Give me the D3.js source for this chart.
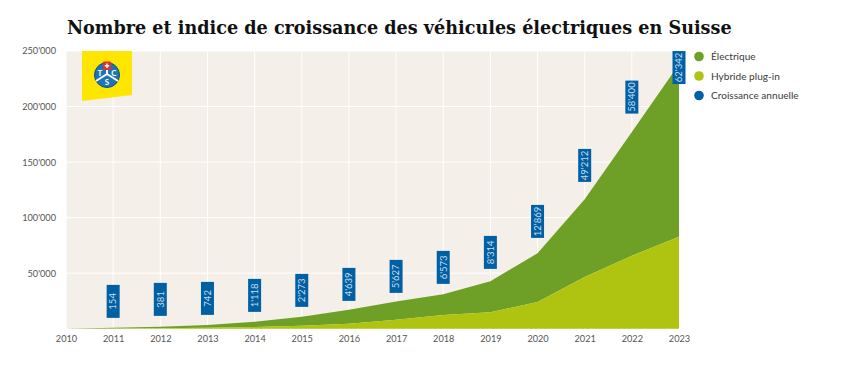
<!DOCTYPE html>
<html>
<head>
<meta charset="utf-8">
<script src="https://cdn.jsdelivr.net/npm/d3@7"></script>
<style>
body { margin: 0; background: #fff; overflow: hidden; }
svg { display: block; }
text { font-family: Lato, sans-serif; }
.tick text { font-size: 9.2px; fill: #555; }
.legend-label { font-size: 10.1px; fill: #3a3a3a; }
</style>
</head>
<body>
<svg id="chart"></svg>
<script>
const years = [2010, 2011, 2012, 2013, 2014, 2015, 2016, 2017, 2018, 2019, 2020, 2021, 2022, 2023];
const yTicks = [50000, 100000, 150000, 200000, 250000];
const hybridValues = [0, 100, 300, 800, 1500, 2700, 4500, 8100, 12400, 14800, 24000, 46500, 65700, 82800];
const electricValues = [0, 800, 1500, 2500, 4800, 8100, 12600, 16300, 18600, 28000, 43900, 70000, 111300, 155200];
const growthYears = [2011, 2012, 2013, 2014, 2015, 2016, 2017, 2018, 2019, 2020, 2021, 2022, 2023];
const growthLabels = ["154", "381", "742", "1'118", "2'273", "4'639", "5'627", "6'573", "8'314", "12'869", "49'212", "58'400", "62'342"];
const growthLevels = [24600, 26400, 27300, 30000, 34500, 39900, 47100, 55200, 68700, 96600, 147000, 208500, 235100];
const legendLabels = ["Électrique", "Hybride plug-in", "Croissance annuelle"];
const legendColors = ["#6ea027", "#afc410", "#0060a3"];

const width = 842, height = 370;
const margin = { top: 51, right: 163, bottom: 41.3, left: 66 };
const innerWidth = width - margin.left - margin.right;
const innerHeight = height - margin.top - margin.bottom;

const svg = d3.select('#chart').attr('width', width).attr('height', height);

svg.append('text')
    .attr('x', 67).attr('y', 34)
    .style('font-family', '"DejaVu Serif", serif')
    .style('font-weight', 'bold')
    .style('font-size', '17.6px')
    .style('fill', '#111')
    .text('Nombre et indice de croissance des véhicules électriques en Suisse');

const chart = svg.append('g').attr('transform', `translate(${margin.left},${margin.top})`);

const xScale = d3.scaleLinear().domain([2010, 2023]).range([0, innerWidth]);
const yScale = d3.scaleLinear().domain([0, 250000]).range([innerHeight, 0]);

chart.append('rect').attr('width', innerWidth).attr('height', innerHeight).attr('fill', '#f4f0e9');

// grid
chart.selectAll('.vgrid').data(years).enter().append('line')
    .attr('x1', d => xScale(d)).attr('x2', d => xScale(d))
    .attr('y1', 0).attr('y2', innerHeight)
    .attr('stroke', '#fff').attr('stroke-width', 1);
chart.selectAll('.hgrid').data(yTicks).enter().append('line')
    .attr('x1', 0).attr('x2', innerWidth)
    .attr('y1', d => yScale(d)).attr('y2', d => yScale(d))
    .attr('stroke', '#fff').attr('stroke-width', 1);

// logo
const logo = chart.append('g').attr('transform', `translate(${xScale(2010)},0)`);
logo.append('polygon').attr('points', '16,0 66,0 66,44 16,50').attr('fill', '#ffe600');
logo.append('circle').attr('cx', 41).attr('cy', 24).attr('r', 12.5).attr('fill', '#1c75b5').attr('stroke', '#0d4f82');
logo.append('path').attr('d', 'M41 23L41 12M41 23L30 30M41 23L52 30').attr('stroke', '#fff').attr('stroke-width', 2).attr('fill', 'none');
logo.append('rect').attr('x', 37).attr('y', 10.5).attr('width', 8).attr('height', 8.5).attr('rx', 1).attr('fill', '#e3312d');
logo.append('path').attr('d', 'M41 12.5V17M38.8 14.7H43.2').attr('stroke', '#fff').attr('stroke-width', 1.4);
[['T', 34, 25], ['C', 48, 25], ['S', 41, 34]].forEach(l => {
    logo.append('text').attr('x', l[1]).attr('y', l[2]).attr('text-anchor', 'middle')
        .style('font-size', '8px').style('font-weight', 'bold').style('fill', '#fff').text(l[0]);
});

// stacked areas
const totalValues = hybridValues.map((d, i) => d + electricValues[i]);
const electricArea = d3.area()
    .x((d, i) => xScale(years[i]))
    .y0((d, i) => yScale(hybridValues[i]))
    .y1(d => yScale(d));
const hybridArea = d3.area()
    .x((d, i) => xScale(years[i]))
    .y0(innerHeight)
    .y1(d => yScale(d));
chart.append('path').datum(totalValues).attr('d', electricArea).attr('fill', legendColors[0]);
chart.append('path').datum(hybridValues).attr('d', hybridArea).attr('fill', legendColors[1]);

// growth labels
const boxW = 13, boxH = 33;
const growth = chart.selectAll('.growth').data(growthYears).enter().append('g')
    .attr('class', 'growth')
    .attr('transform', (d, i) => `translate(${xScale(d)},${yScale(growthLevels[i])})`);
growth.append('rect')
    .attr('x', -boxW / 2).attr('y', -boxH / 2)
    .attr('width', boxW).attr('height', boxH)
    .attr('fill', legendColors[2]);
growth.append('text')
    .attr('transform', 'rotate(-90)')
    .attr('text-anchor', 'middle').attr('dy', '0.35em')
    .style('font-size', '9.5px').style('fill', '#c4dcee')
    .text((d, i) => growthLabels[i]);

// axes
const xAxis = d3.axisBottom(xScale).tickValues(years).tickFormat(d3.format('d')).tickSize(0).tickPadding(7);
const yAxis = d3.axisLeft(yScale).tickValues(yTicks).tickFormat(d => d3.format(',')(d).replace(',', "'")).tickSize(0).tickPadding(10);
chart.append('g').attr('transform', `translate(0,${innerHeight})`).call(xAxis).call(g => g.select('.domain').remove());
chart.append('g').call(yAxis).call(g => g.select('.domain').remove());

// legend
const legend = svg.selectAll('.legend').data(legendLabels).enter().append('g')
    .attr('class', 'legend')
    .attr('transform', (d, i) => `translate(699,${56.5 + i * 19.5})`);
legend.append('circle').attr('r', 4.8).attr('fill', (d, i) => legendColors[i]);
legend.append('text').attr('class', 'legend-label').attr('x', 12).attr('dy', '0.35em').text(d => d);
</script>
</body>
</html>
